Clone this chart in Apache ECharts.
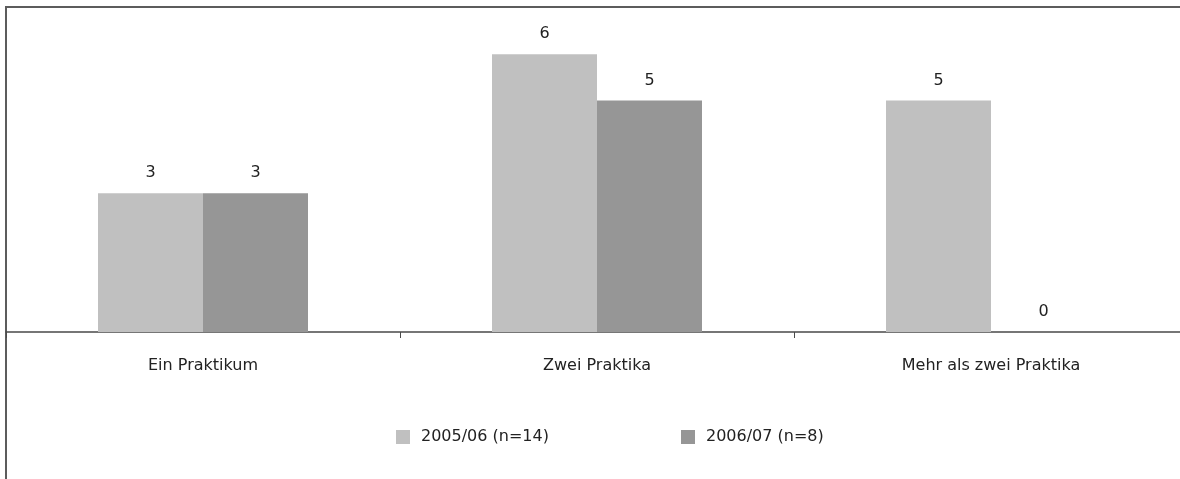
<!DOCTYPE html>
<html>
<head>
<meta charset="utf-8">
<script src="https://cdn.jsdelivr.net/npm/echarts@6/dist/echarts.min.js"></script>
<style>
  html, body { margin: 0; padding: 0; width: 1180px; height: 479px; overflow: hidden; background: #fff; }
  .frame { position: absolute; left: 5px; top: 6px; width: 1300px; height: 600px; border: 2px solid #5c5c5c; box-sizing: border-box; }
  #chart { position: absolute; left: 0; top: 0; width: 1190px; height: 479px; }
</style>
</head>
<body>
<div class="frame"></div>
<div id="chart"></div>
<script>
const categories = ["Ein Praktikum", "Zwei Praktika", "Mehr als zwei Praktika"];
const seriesNames = ["2005/06 (n=14)", "2006/07 (n=8)"];
const values2005 = [3, 6, 5];
const values2006 = [3, 5, 0];

const textColor = "#222";
const fontFamily = "DejaVu Sans";

const chart = echarts.init(document.getElementById("chart"));

const barLabel = {
  show: true,
  position: "top",
  distance: 12,
  color: textColor,
  fontFamily: fontFamily,
  fontSize: 16,
};

const legendText = { color: textColor, fontFamily: fontFamily, fontSize: 16, padding: [0, 0, 0, 6] };

chart.setOption({
  animation: false,
  backgroundColor: "transparent",
  grid: {
    left: 6,
    right: 2,
    top: 8,
    bottom: 147,
  },
  legend: [
    {
      data: [seriesNames[0]],
      left: 396,
      top: 429,
      padding: 0,
      itemWidth: 14,
      itemHeight: 14,
      icon: "rect",
      textStyle: legendText,
    },
    {
      data: [seriesNames[1]],
      left: 681,
      top: 429,
      padding: 0,
      itemWidth: 14,
      itemHeight: 14,
      icon: "rect",
      textStyle: legendText,
    },
  ],
  xAxis: {
    type: "category",
    data: categories,
    axisLine: { lineStyle: { color: "#4a4a4a", width: 1.5 } },
    axisTick: { show: true, length: 6, lineStyle: { color: "#4a4a4a" } },
    axisLabel: {
      color: textColor,
      fontFamily: fontFamily,
      fontSize: 16,
      margin: 26,
    },
  },
  yAxis: {
    type: "value",
    min: 0,
    max: 7,
    show: false,
    splitLine: { show: false },
  },
  series: [
    {
      name: seriesNames[0],
      type: "bar",
      data: values2005,
      barWidth: 105,
      barGap: 0,
      itemStyle: { color: "#c0c0c0" },
      label: barLabel,
    },
    {
      name: seriesNames[1],
      type: "bar",
      data: values2006,
      barWidth: 105,
      barGap: 0,
      itemStyle: { color: "#969696" },
      label: barLabel,
    },
  ],
});
</script>
</body>
</html>
